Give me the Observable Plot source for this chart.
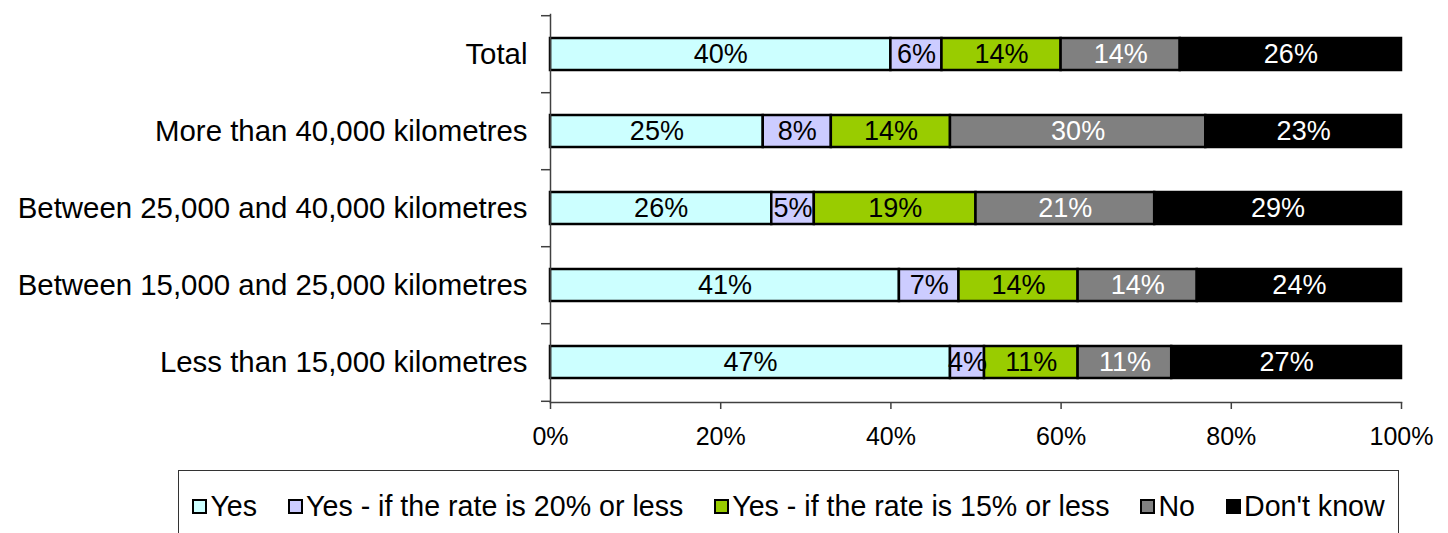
<!DOCTYPE html>
<html><head><meta charset="utf-8">
<script src="https://cdn.jsdelivr.net/npm/d3@7"></script>
<script src="https://cdn.jsdelivr.net/npm/@observablehq/plot@0.6"></script>
<style>
body{margin:0;background:#fff;font-family:"Liberation Sans",Arial,sans-serif;}
#wrap{position:relative;width:1448px;height:533px;overflow:hidden;background:#fff;}
#chart{position:absolute;left:0;top:0;}
#legend{position:absolute;left:178px;top:470px;width:1221px;height:100px;border:1.5px solid #333;box-sizing:border-box;display:flex;justify-content:center;align-items:flex-start;padding-top:21px;gap:31px;font-size:28.6px;color:#000;}
.item{display:flex;align-items:center;line-height:28px;white-space:nowrap;}
.sw{width:11px;height:11px;border:2px solid #000;margin-right:3px;}
</style></head>
<body><div id="wrap"><div id="chart"></div><div id="legend"></div></div>
<script>
const categories = ["Total","More than 40,000 kilometres","Between 25,000 and 40,000 kilometres","Between 15,000 and 25,000 kilometres","Less than 15,000 kilometres"];
const series = ["Yes","Yes - if the rate is 20% or less","Yes - if the rate is 15% or less","No","Don't know"];
const colors = ["#CCFFFF","#CCCCFF","#99CC00","#808080","#000000"];
const lightText = ["No","Don't know"];
const yes = [40,25,26,41,47];
const yes20 = [6,8,5,7,4];
const yes15 = [14,14,19,14,11];
const no = [14,30,21,14,11];
const dontKnow = [26,23,29,24,27];
const xTicks = [0,20,40,60,80,100];

const valuesBySeries = [yes, yes20, yes15, no, dontKnow];
const rows = [];
categories.forEach((c, i) => series.forEach((s, j) => rows.push({category: c, series: s, value: valuesBySeries[j][i]})));

const W = 1448, H = 460, mt = 14, mb = 58, ml = 550, mr = 47;
const step = (H - mt - mb) / categories.length;
const font = '"Liberation Sans", Arial, sans-serif';
const axisColor = "#404040";

const chart = Plot.plot({
  width: W, height: H, marginTop: mt, marginBottom: mb, marginLeft: ml, marginRight: mr,
  style: {fontFamily: font, background: "white", color: "#000"},
  x: {domain: [0, 100], axis: null},
  y: {domain: categories, paddingInner: 0.59, paddingOuter: 0.295, axis: null},
  color: {domain: series, range: colors},
  marks: [
    Plot.barX(rows, Plot.stackX({x: "value", y: "category", z: "series", fill: "series", stroke: "black", strokeWidth: 2.5})),
    Plot.textX(rows, Plot.stackX({x: "value", y: "category", z: "series", text: d => lightText.includes(d.series) ? null : d.value + "%", fill: "black", fontSize: 27})),
    Plot.textX(rows, Plot.stackX({x: "value", y: "category", z: "series", text: d => lightText.includes(d.series) ? d.value + "%" : null, fill: "white", fontSize: 27})),
    Plot.frame({anchor: "left", stroke: axisColor, strokeWidth: 1.5}),
    Plot.frame({anchor: "bottom", stroke: axisColor, strokeWidth: 1.5}),
    Plot.axisY({tickSize: 0, tickPadding: 23, fontSize: 29.4, label: null}),
    Plot.axisY(categories, {tickSize: 9, tickFormat: () => "", dy: -step / 2, stroke: axisColor, strokeWidth: 1.5, label: null}),
    Plot.axisY([categories[categories.length - 1]], {tickSize: 9, tickFormat: () => "", dy: step / 2, stroke: axisColor, strokeWidth: 1.5, label: null}),
    Plot.axisX(xTicks, {tickSize: 7, tickPadding: 18, tickFormat: d => d + "%", fontSize: 25, stroke: axisColor, strokeWidth: 1.5, label: null})
  ]
});
document.getElementById("chart").appendChild(chart);

const legend = document.getElementById("legend");
series.forEach((s, j) => {
  const item = document.createElement("div");
  item.className = "item";
  const sw = document.createElement("span");
  sw.className = "sw";
  sw.style.background = colors[j];
  const t = document.createElement("span");
  t.textContent = s;
  item.appendChild(sw); item.appendChild(t);
  legend.appendChild(item);
});
</script></body></html>
